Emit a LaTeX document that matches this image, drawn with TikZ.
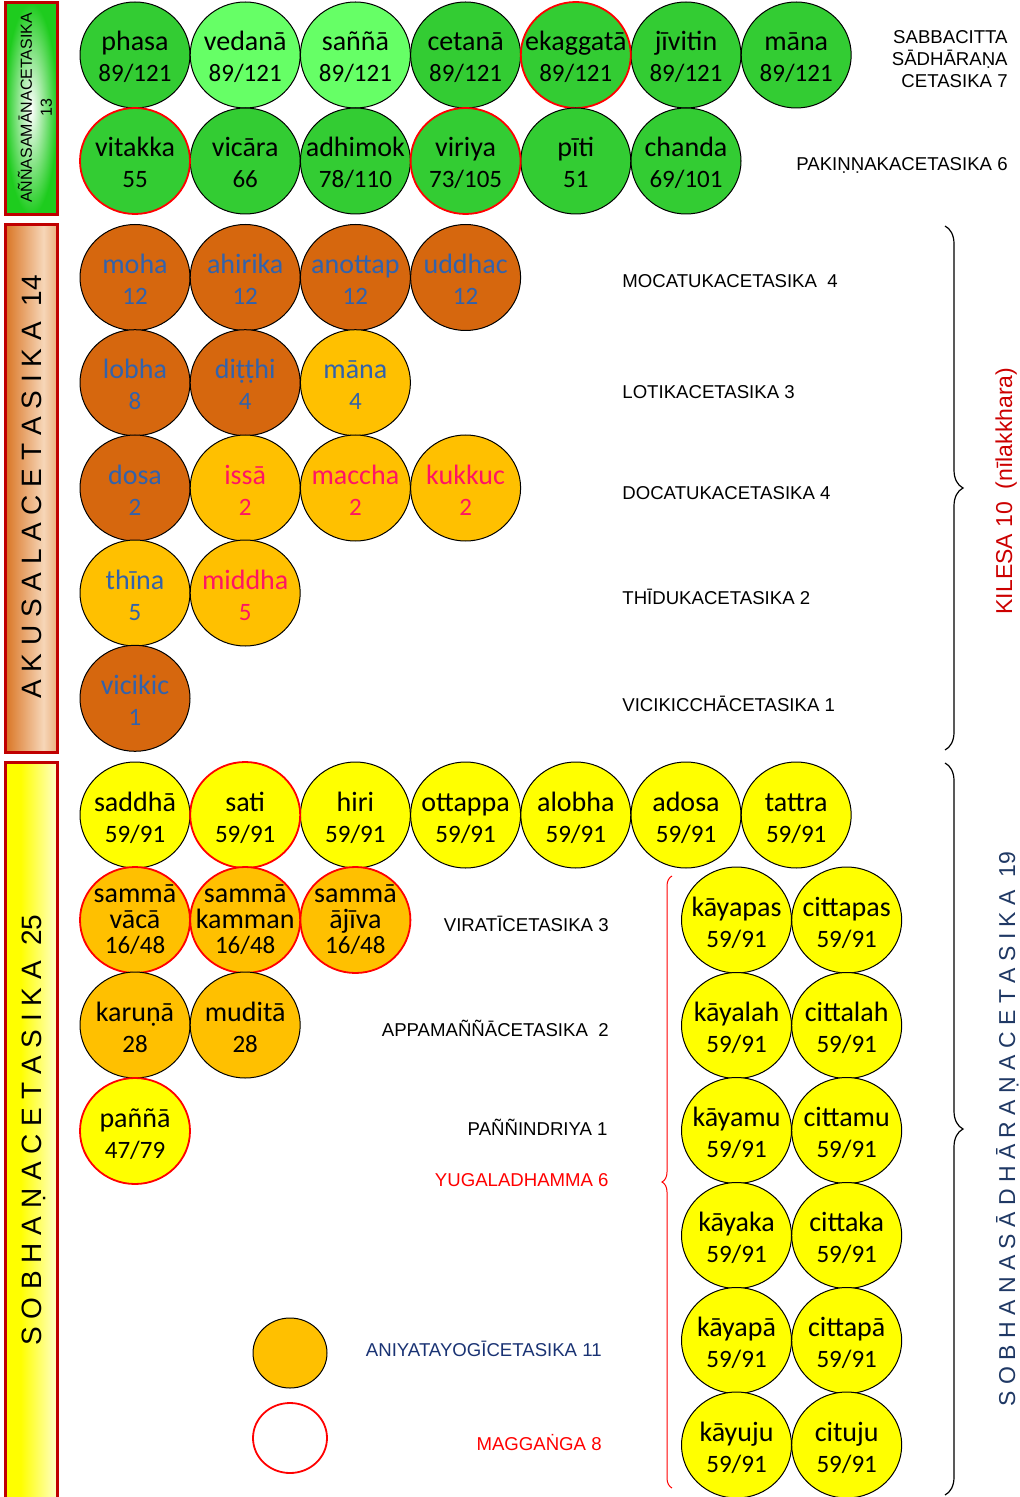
\documentclass[tikz,border=0pt]{standalone}
\usepackage{fontspec}
\setmainfont{Liberation Sans}
\newfontfamily\circfont{Carlito}
\usetikzlibrary{shapes.geometric,decorations.pathreplacing}

\definecolor{gdark}{RGB}{51,204,51}
\definecolor{glight}{RGB}{102,255,102}
\definecolor{odark}{RGB}{214,103,14}
\definecolor{olight}{RGB}{246,214,184}
\definecolor{amber}{RGB}{255,192,0}
\definecolor{yel}{RGB}{255,255,0}
\definecolor{ylight}{RGB}{255,255,200}
\definecolor{bargreen}{RGB}{30,204,30}
\definecolor{tblue}{RGB}{50,98,172}
\definecolor{tpink}{RGB}{255,20,100}
\definecolor{barred}{RGB}{192,0,0}
\definecolor{kred}{RGB}{204,0,0}
\definecolor{lred}{RGB}{255,0,0}
\definecolor{navy}{RGB}{25,50,115}
\definecolor{navyb}{RGB}{31,56,100}

\pgfdeclarehorizontalshading{orangebar}{100bp}{color(0bp)=(odark); color(20bp)=(odark); color(62bp)=(olight); color(100bp)=(odark)}
\pgfdeclarehorizontalshading{yellowbar}{100bp}{color(0bp)=(yel); color(40bp)=(yel); color(75bp)=(ylight); color(100bp)=(yel)}

\tikzset{
  disc/.style={ellipse, draw=black, line width=0.5pt, minimum width=55pt,
    minimum height=53pt, inner sep=0pt},
  rb/.style={draw=red, line width=0.9pt},
  word/.style={font=\circfont\fontsize{14}{14}\selectfont, anchor=base, inner sep=0pt},
  num/.style={font=\circfont\fontsize{12.5}{14}\selectfont, anchor=base, inner sep=0pt},
  lab/.style={font=\fontsize{9.3}{11}\selectfont, inner sep=0pt},
  bar/.style={draw=barred, line width=1.5pt},
  vtitle/.style={rotate=90, anchor=base, inner sep=0pt},
  curly/.style={decorate, line width=0.6pt},
  legdisc/.style={ellipse, minimum width=37pt, minimum height=35pt, inner sep=0pt},
}

% one cetasika disc: id, x, y, disc options, text colour, name, count
\newcommand\cet[7]{%
  \node[disc,#4] (#1) at (#2,#3) {};
  \node[word,text=#5] (#1-w) at ([yshift=2pt]#1.center) {#6};
  \node[num,text=#5] (#1-n) at ([yshift=-13.5pt]#1.center) {#7};
}
% disc with a two-word name: id, x, y, disc options, word 1, word 2, count
\newcommand\cettri[7]{%
  \node[disc,#4] (#1) at (#2,#3) {};
  \node[word] (#1-a) at ([yshift=9pt]#1.center) {#5};
  \node[word] (#1-b) at ([yshift=-4pt]#1.center) {#6};
  \node[num] (#1-n) at ([yshift=-16.5pt]#1.center) {#7};
}

\begin{document}
\begin{tikzpicture}[x=0.5pt,y=-0.5pt]
\useasboundingbox (0,0) rectangle (1019,1497);

% ---- group bars on the left
\shade[inner color=white, outer color=bargreen] (5,3) rectangle (57,215);
\draw[bar] (5,3) rectangle (57,215);
\node[rotate=90, align=center, font=\fontsize{8}{10}\selectfont, inner sep=0pt] (annatitle) at (35,108) {AÑÑASAMĀNACETASIKA\\13};

\shade[shading=orangebar] (5,225) rectangle (57,752);
\draw[bar] (5,225) rectangle (57,752);
\node[vtitle, font=\fontsize{14}{16}\selectfont] (akutitle) at (41,487) {A K U S A L A C E T A S I K A\ \ 14};

\shade[shading=yellowbar] (5,762) rectangle (57,1500);
\draw[bar] (5,762) rectangle (57,1500);
\node[vtitle, font=\fontsize{14}{16}\selectfont] (sobtitle) at (41,1130) {S O B H A Ṇ A C E T A S I K A\ \ 25};

% ---- aññasamāna cetasika
\cet{phasa}{135}{55}{fill=gdark}{black}{phasa}{89/121}
\cet{vedana}{245.2}{55}{fill=glight}{black}{vedanā}{89/121}
\cet{sanna}{355.4}{55}{fill=glight}{black}{saññā}{89/121}
\cet{cetana}{465.6}{55}{fill=gdark}{black}{cetanā}{89/121}
\cet{jivit}{686}{55}{fill=gdark}{black}{jīvitin}{89/121}
\cet{manag}{796.2}{55}{fill=gdark}{black}{māna}{89/121}
\cet{ekagg}{575.8}{55}{fill=gdark,rb}{black}{ekaggatā}{89/121}

\cet{vicara}{245.2}{161}{fill=gdark}{black}{vicāra}{66}
\cet{adhim}{355.4}{161}{fill=gdark}{black}{adhimok}{78/110}
\cet{piti}{575.8}{161}{fill=gdark}{black}{pīti}{51}
\cet{chanda}{686}{161}{fill=gdark}{black}{chanda}{69/101}
\cet{vitak}{135}{161}{fill=gdark,rb}{black}{vitakka}{55}
\cet{viriya}{465.6}{161}{fill=gdark,rb}{black}{viriya}{73/105}

\node[lab, anchor=base east] (sab1) at (1008,43.5) {SABBACITTA};
\node[lab, anchor=base east] (sab2) at (1008,65.5) {SĀDHĀRAṆA};
\node[lab, anchor=base east] (sab3) at (1008,87.5) {CETASIKA 7};
\node[lab, anchor=base east] (pakin) at (1008,170.5) {PAKIṆṆAKACETASIKA 6};

% ---- akusala cetasika
\cet{moha}{135}{277.5}{fill=odark}{tblue}{moha}{12}
\cet{ahir}{245.2}{277.5}{fill=odark}{tblue}{ahirika}{12}
\cet{anot}{355.4}{277.5}{fill=odark}{tblue}{anottap}{12}
\cet{uddh}{465.6}{277.5}{fill=odark}{tblue}{uddhac}{12}

\cet{lobha}{135}{382.7}{fill=odark}{tblue}{lobha}{8}
\cet{ditth}{245.2}{382.7}{fill=odark}{tblue}{diṭṭhi}{4}
\cet{manaa}{355.4}{382.7}{fill=amber}{tblue}{māna}{4}

\cet{dosa}{135}{488}{fill=odark}{tblue}{dosa}{2}
\cet{issa}{245.2}{488}{fill=amber}{tpink}{issā}{2}
\cet{macch}{355.4}{488}{fill=amber}{tpink}{maccha}{2}
\cet{kukk}{465.6}{488}{fill=amber}{tpink}{kukkuc}{2}

\cet{thina}{135}{593}{fill=amber}{tblue}{thīna}{5}
\cet{midd}{245.2}{593}{fill=amber}{tpink}{middha}{5}

\cet{vicik}{135}{698.3}{fill=odark}{tblue}{vicikic}{1}

\node[lab, anchor=base west] (moca) at (622,287.5) {MOCATUKACETASIKA\ \ 4};
\node[lab, anchor=base west] (loti) at (622,398.5) {LOTIKACETASIKA 3};
\node[lab, anchor=base west] (doca) at (622,499.5) {DOCATUKACETASIKA 4};
\node[lab, anchor=base west] (thid) at (622,604.5) {THĪDUKACETASIKA 2};
\node[lab, anchor=base west] (vicl) at (622,711.5) {VICIKICCHĀCETASIKA 1};

\coordinate (kil-top) at (945,226);
\coordinate (kil-bot) at (945,750);
\draw[curly, decoration={brace, amplitude=9pt}] (kil-top) -- (kil-bot);
\node[vtitle, text=kred, font=\fontsize{11.5}{13}\selectfont] (kilesa) at (1012,491) {KILESA 10\ \ (nīlakkhara)};

% ---- sobhana cetasika
\cet{saddha}{135}{815}{fill=yel}{black}{saddhā}{59/91}
\cet{hiri}{355.4}{815}{fill=yel}{black}{hiri}{59/91}
\cet{ottap}{465.6}{815}{fill=yel}{black}{ottappa}{59/91}
\cet{alobha}{575.8}{815}{fill=yel}{black}{alobha}{59/91}
\cet{adosa}{686}{815}{fill=yel}{black}{adosa}{59/91}
\cet{tattra}{796.2}{815}{fill=yel}{black}{tattra}{59/91}
\cet{sati}{245.2}{815}{fill=yel,rb}{black}{sati}{59/91}

\cettri{svaca}{135}{920}{fill=amber,rb}{sammā}{vācā}{16/48}
\cettri{skamm}{245.2}{920}{fill=amber,rb}{sammā}{kamman}{16/48}
\cettri{sajiv}{355.4}{920}{fill=amber,rb}{sammā}{ājīva}{16/48}

\cet{karuna}{135}{1025}{fill=amber}{black}{karuṇā}{28}
\cet{mudita}{245.2}{1025}{fill=amber}{black}{muditā}{28}

\cet{panna}{135}{1131}{fill=yel,rb}{black}{paññā}{47/79}

\node[lab, anchor=base east] (virati) at (609,931.5) {VIRATĪCETASIKA 3};
\node[lab, anchor=base east] (appam) at (609,1036.5) {APPAMAÑÑĀCETASIKA\ \ 2};
\node[lab, anchor=base east] (pannl) at (608,1135.5) {PAÑÑINDRIYA 1};
\node[lab, anchor=base east, text=lred] (yugal) at (609,1186.5) {YUGALADHAMMA 6};

% yugaladhamma pairs
\cet{kpas}{736.5}{920}{fill=yel}{black}{kāyapas}{59/91}
\cet{cpas}{846.7}{920}{fill=yel}{black}{cittapas}{59/91}
\cet{klah}{736.5}{1025.5}{fill=yel}{black}{kāyalah}{59/91}
\cet{clah}{846.7}{1025.5}{fill=yel}{black}{cittalah}{59/91}
\cet{kmu}{736.5}{1130.5}{fill=yel}{black}{kāyamu}{59/91}
\cet{cmu}{846.7}{1130.5}{fill=yel}{black}{cittamu}{59/91}
\cet{kka}{736.5}{1235.5}{fill=yel}{black}{kāyaka}{59/91}
\cet{cka}{846.7}{1235.5}{fill=yel}{black}{cittaka}{59/91}
\cet{kpa}{736.5}{1340.5}{fill=yel}{black}{kāyapā}{59/91}
\cet{cpa}{846.7}{1340.5}{fill=yel}{black}{cittapā}{59/91}
\cet{kuju}{736.5}{1445}{fill=yel}{black}{kāyuju}{59/91}
\cet{cuju}{846.7}{1445}{fill=yel}{black}{cituju}{59/91}

\coordinate (yug-bot) at (672,1488);
\coordinate (yug-top) at (672,876);
\draw[curly, draw=red, line width=0.5pt, decoration={brace, amplitude=5pt}] (yug-bot) -- (yug-top);

\coordinate (sob-top) at (945,763);
\coordinate (sob-bot) at (945,1495);
\draw[curly, decoration={brace, amplitude=9pt}] (sob-top) -- (sob-bot);
\node[vtitle, text=navyb, font=\fontsize{11.5}{13}\selectfont] (sobsadh) at (1015,1129) {S O B H A N A S Ā D H Ā R A Ṇ A C E T A S I K A\ \ 19};

% ---- legend
\node[legdisc, draw=black, line width=0.5pt, fill=amber] (leganiy) at (290,1353) {};
\node[legdisc, draw=red, line width=0.9pt, fill=white] (legmagg) at (290,1438) {};
\node[lab, anchor=base east, text=navy] (aniy) at (602,1356.5) {ANIYATAYOGĪCETASIKA 11};
\node[lab, anchor=base east, text=lred] (magg) at (602,1450.5) {MAGGAṄGA 8};
\end{tikzpicture}
\end{document}
